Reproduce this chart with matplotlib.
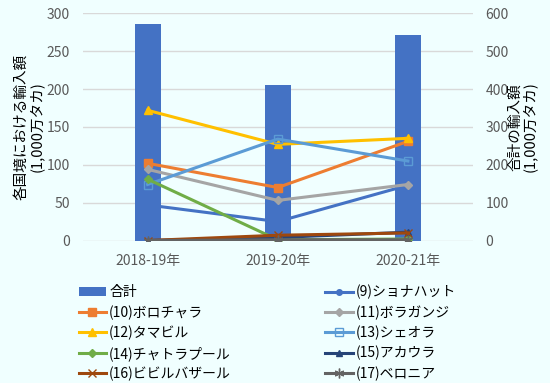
import matplotlib.pyplot as plt
import numpy as np

plt.rcParams['font.family'] = ['Noto Sans CJK JP', 'DejaVu Sans']

years = ['2018-19年', '2019-20年', '2020-21年']
total = [571, 412, 542]

names = ['(9)ショナハット', '(10)ボロチャラ', '(11)ボラガンジ', '(12)タマビル',
         '(13)シェオラ', '(14)チャトラプール', '(15)アカウラ', '(16)ビビルバザール',
         '(17)ベロニア']
shona = [47, 25, 73]
bolo = [102, 70, 131]
bola = [94, 53, 74]
tama = [172, 127, 135]
sheola = [74, 134, 105]
chatra = [81, 1, 2]
akaura = [0, 4, 11]
bibir = [0, 7, 10]
belonia = [0, 1, 1]
series = [shona, bolo, bola, tama, sheola, chatra, akaura, bibir, belonia]

colors = ['#4472C4', '#ED7D31', '#A5A5A5', '#FFC000', '#5B9BD5', '#70AD47',
          '#264478', '#9E480E', '#636363']
markers = ['o', 's', 'D', '^', 's', 'D', '^', 'x', (6, 2, 0)]
msizes = [4, 6, 4, 6, 6, 4, 5, 6, 7]
bg = '#F0FFFF'
tc = '#595959'

fig, ax = plt.subplots(figsize=(5.5, 3.83), dpi=100)
fig.patch.set_facecolor(bg)
ax2 = ax.twinx()
x = np.arange(len(years))

bars = ax2.bar(x, total, width=0.2, color='#4472C4', label='合計')

handles = []
for i, s in enumerate(series):
    mfc = 'none' if i == 4 else colors[i]
    h, = ax.plot(x, s, color=colors[i], lw=2.2, marker=markers[i],
                 ms=msizes[i], mfc=mfc, mec=colors[i], label=names[i])
    handles.append(h)

ax.set_zorder(ax2.get_zorder() + 1)
ax.patch.set_visible(False)
ax2.set_facecolor(bg)

ax.set_xlim(-0.5, 2.5)
ax.set_ylim(0, 300)
ax2.set_ylim(0, 600)
ax.set_yticks(range(0, 301, 50))
ax2.set_yticks(range(0, 601, 100))
ax.set_xticks(x)
ax.set_xticklabels(years)
ax2.grid(axis='y', color='#D9D9D9', lw=1)
ax2.set_axisbelow(True)

for a in (ax, ax2):
    for sp in a.spines.values():
        sp.set_visible(False)
    a.tick_params(length=0, labelsize=10, colors=tc)
ax.tick_params(axis='y', pad=9)
ax2.tick_params(axis='y', pad=9)
ax.tick_params(axis='x', pad=10)

ax.set_ylabel('各国境における輸入額\n(1,000万タカ)', fontsize=10.5, color='black',
              linespacing=1.0)
ax.yaxis.set_label_coords(-0.10, 0.5)
ax2.set_ylabel('合計の輸入額\n(1,000万タカ)', fontsize=10.5, color='black',
               linespacing=1.0)
ax2.yaxis.set_label_coords(1.09, 0.5)

col1 = [bars, handles[1], handles[3], handles[5], handles[7]]
col2 = [handles[0], handles[2], handles[4], handles[6], handles[8]]
allh = col1 + col2
fig.legend(allh, [h.get_label() for h in allh], ncol=2, loc='lower left',
           bbox_to_anchor=(0.12, -0.028), frameon=False, fontsize=10,
           handlelength=2.0, columnspacing=6.8, labelspacing=0.42,
           handletextpad=0.2)

fig.subplots_adjust(left=0.15, right=0.86, top=0.965, bottom=0.372)
fig.savefig('out.png', dpi=100, facecolor=bg)
